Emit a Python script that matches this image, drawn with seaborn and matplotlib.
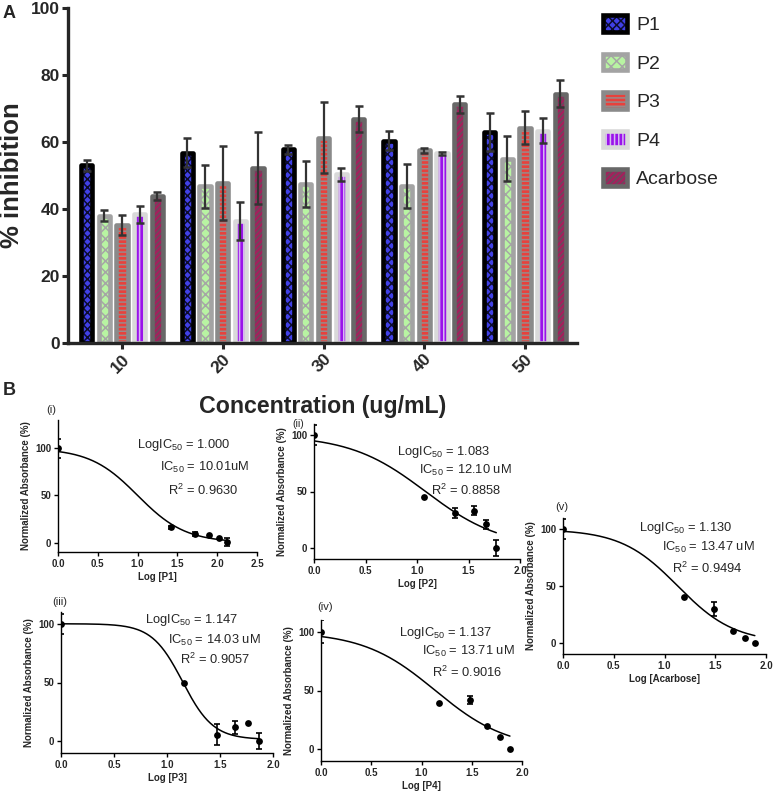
"""
plot.py
alpha-glucosidase inhibition bars (A) and dose-response fits (B)
"""
import numpy as np
import pandas as pd
import matplotlib
matplotlib.use("Agg")
import matplotlib.pyplot as plt
from matplotlib.patches import Patch
import seaborn as sns

# ---------------- panel A data ----------------
concs = ["10", "20", "30", "40", "50"]
groups = ["P1", "P2", "P3", "P4", "Acarbose"]
p1 = [53.0, 56.8, 57.8, 60.4, 63.0]
p2 = [38.0, 46.8, 47.4, 46.8, 55.0]
p3 = [35.2, 47.8, 61.3, 57.5, 64.3]
p4 = [38.4, 36.4, 50.4, 56.6, 63.4]
acarbose = [43.9, 52.2, 66.9, 71.2, 74.4]
p1_err = [1.6, 4.4, 1.3, 2.9, 5.7]
p2_err = [1.6, 6.4, 6.8, 6.5, 6.7]
p3_err = [3.0, 11.0, 10.5, 0.7, 4.9]
p4_err = [2.6, 5.6, 1.9, 0.4, 3.7]
acarbose_err = [1.1, 10.7, 3.8, 2.5, 4.0]

# ---------------- panel B data ----------------
logx_p1 = [0.0, 1.42, 1.72, 1.90, 2.02, 2.12]
abs_p1 = [100, 16.3, 9.2, 8.1, 4.6, 0.4]
err_p1 = [10, 1.5, 1.8, 0, 0, 4]
logx_p2 = [0.0, 1.07, 1.37, 1.55, 1.67, 1.77]
abs_p2 = [100, 45.3, 30.7, 32.7, 21.0, 0.0]
err_p2 = [9, 0, 4.4, 4, 4, 7]
logx_p3 = [0.0, 1.16, 1.47, 1.64, 1.76, 1.87]
abs_p3 = [100, 49.4, 5.4, 11.9, 15.3, 0.3]
err_p3 = [8.6, 0, 9, 5.6, 0, 6.8]
logx_p4 = [0.0, 1.17, 1.48, 1.65, 1.78, 1.88]
abs_p4 = [100, 39.0, 42.1, 20.0, 10.6, 0.0]
err_p4 = [9.7, 0, 3.2, 0, 0, 0]
logx_aca = [0.0, 1.19, 1.49, 1.67, 1.79, 1.89]
abs_aca = [100, 40.4, 30.0, 10.3, 4.1, 0.0]
err_aca = [8.8, 0, 6.3, 0, 0, 0]

# fitted 4PL parameters: top, bottom, logIC50, hill slope
fit_p1 = (100, 0, 1.000, 1.45)
fit_p2 = (100, 0, 1.083, 1.18)
fit_p3 = (100, 1.5, 1.147, 3.0)
fit_p4 = (100, 0, 1.137, 1.21)
fit_aca = (100, 0, 1.130, 1.55)

fit_text_p1 = ["LogIC$_{50}$ = 1.000", "IC$_{50}$ = 10.01uM", "R$^{2}$ = 0.9630"]
fit_text_p2 = ["LogIC$_{50}$ = 1.083", "IC$_{50}$ = 12.10 uM", "R$^{2}$ = 0.8858"]
fit_text_p3 = ["LogIC$_{50}$ = 1.147", "IC$_{50}$ = 14.03 uM", "R$^{2}$ = 0.9057"]
fit_text_p4 = ["LogIC$_{50}$ = 1.137", "IC$_{50}$ = 13.71 uM", "R$^{2}$ = 0.9016"]
fit_text_aca = ["LogIC$_{50}$ = 1.130", "IC$_{50}$ = 13.47 uM", "R$^{2}$ = 0.9494"]

sns.set_style("ticks")
plt.rcParams["font.family"] = ["Liberation Sans", "DejaVu Sans"]
plt.rcParams["mathtext.default"] = "regular"
plt.rcParams["hatch.linewidth"] = 1.1

W, H = 774, 794
fig = plt.figure(figsize=(W / 100, H / 100), dpi=100)


def box(l, t, r, b):
    # pixel box (from top-left) -> figure fraction
    return [l / W, 1 - b / H, (r - l) / W, (b - t) / H]


def fx(x, y):
    return x / W, 1 - y / H


# ---------------- panel A ----------------
means = dict(zip(groups, [p1, p2, p3, p4, acarbose]))
errs = dict(zip(groups, [p1_err, p2_err, p3_err, p4_err, acarbose_err]))
rows = [(c, g, means[g][i]) for g in groups for i, c in enumerate(concs)]
df = pd.DataFrame(rows, columns=["conc", "group", "value"])

face = {"P1": "#4040e6", "P2": "#b8f4a2", "P3": "#e8413c", "P4": "#9a12ea", "Acarbose": "#a3215c"}
hatch_col = {"P1": "#0c0c30", "P2": "#a6a6a6", "P3": "#9a8a8a", "P4": "#d6b6f2", "Acarbose": "#6a4a5c"}
hatch = {"P1": "xxxx", "P2": "xxx", "P3": "----", "P4": "||||", "Acarbose": "//////"}
edge = {"P1": "#000000", "P2": "#a3a3a3", "P3": "#8a8a8a", "P4": "#d9d9d9", "Acarbose": "#686868"}

axA = fig.add_axes(box(68, 8, 577, 343))
for layer in range(2):
    sns.barplot(data=df, x="conc", y="value", hue="group", order=concs,
                hue_order=groups, width=0.875, gap=0.365, errorbar=None,
                legend=False, ax=axA, palette=[face[g] for g in groups])

fill_conts = axA.containers[:5]
line_conts = axA.containers[5:10]
for g, cont in zip(groups, fill_conts):
    for bar in cont:
        bar.set_facecolor(face[g])
        bar.set_edgecolor(hatch_col[g])
        bar.set_hatch(hatch[g])
        bar.set_linewidth(0)
        bar.set_zorder(1)
for g, cont in zip(groups, line_conts):
    for bar in cont:
        bar.set_facecolor("none")
        bar.set_edgecolor(edge[g])
        bar.set_linewidth(3.3)
        bar.set_joinstyle("round")
        bar.set_zorder(2)

for g, cont in zip(groups, fill_conts):
    xs = [b.get_x() + b.get_width() / 2 for b in cont]
    axA.errorbar(xs, means[g], yerr=errs[g], fmt="none", ecolor="#333333",
                 elinewidth=1.6, capsize=2.8, capthick=1.8, zorder=5)

axA.set_xlim(-0.535, 4.515)
axA.set_ylim(0, 100)
axA.set_yticks([0, 20, 40, 60, 80, 100])
sns.despine(ax=axA)
for s in ["left", "bottom"]:
    axA.spines[s].set_linewidth(2.4)
    axA.spines[s].set_zorder(6)
axA.tick_params(axis="both", width=2.2, length=4, labelsize=12.5, pad=2)
plt.setp(axA.get_xticklabels(), rotation=45, ha="right", rotation_mode="anchor",
         fontweight="bold")
plt.setp(axA.get_yticklabels(), fontweight="bold")
axA.set_ylabel("% inhibition", fontsize=18.5, fontweight="bold")
axA.yaxis.set_label_coords(-0.086, 0.5)
axA.set_xlabel("Concentration (ug/mL)", fontsize=16.7, fontweight="bold", labelpad=14)

handles = []
for g in groups:
    hp = Patch(facecolor=face[g], edgecolor=hatch_col[g], hatch=hatch[g], linewidth=0)
    op = Patch(facecolor="none", edgecolor=edge[g], linewidth=3.3, joinstyle="round")
    handles.append((hp, op))
axA.legend(handles=handles, labels=groups, loc="upper left",
           bbox_to_anchor=fx(603, 15), bbox_transform=fig.transFigure,
           frameon=False, fontsize=14, handlelength=1.25, handleheight=0.95,
           labelspacing=1.0, handletextpad=0.45, borderpad=0, borderaxespad=0)

fig.text(*fx(3, 13), "A", fontsize=13, fontweight="bold", va="center")
fig.text(*fx(3, 390), "B", fontsize=13, fontweight="bold", va="center")

# ---------------- panel B ----------------
panels = [
    (logx_p1, abs_p1, err_p1, fit_p1, fit_text_p1, "Log [P1]", "(i)",
     (58, 420, 257, 552), (0, 2.5), (-10, 130), (46, 410),
     [(137, 445), (160, 467), (168, 490)]),
    (logx_p2, abs_p2, err_p2, fit_p2, fit_text_p2, "Log [P2]", "(ii)",
     (314, 424, 520, 559), (0, 2.0), (-10, 110), (292, 424),
     [(397, 452), (419, 470), (431, 490)]),
    (logx_p3, abs_p3, err_p3, fit_p3, fit_text_p3, "Log [P3]", "(iii)",
     (61, 612, 273, 753), (0, 2.0), (-10, 110), (52, 602),
     [(145, 620), (168, 640), (180, 659)]),
    (logx_p4, abs_p4, err_p4, fit_p4, fit_text_p4, "Log [P4]", "(iv)",
     (321, 620, 522, 761), (0, 2.0), (-10, 110), (317, 607),
     [(399, 633), (422, 651), (432, 672)]),
    (logx_aca, abs_aca, err_aca, fit_aca, fit_text_aca, "Log [Acarbose]", "(v)",
     (563, 518, 766, 654), (0, 2.0), (-10, 110), (555, 507),
     [(639, 528), (662, 547), (672, 568)]),
]

for lx, ab, er, fit, txt, xlab, tag, bx, xl, yl, tag_xy, txt_xy in panels:
    ax = fig.add_axes(box(*bx))
    lx, ab, er = np.array(lx), np.array(ab), np.array(er, dtype=float)
    top, bottom, logic50, hill = fit
    xs = np.linspace(0, lx[-1], 200)
    ys = bottom + (top - bottom) / (1 + 10 ** ((xs - logic50) * hill))
    sns.lineplot(x=xs, y=ys, color="black", linewidth=1.1, ax=ax)
    sns.scatterplot(x=lx, y=ab, color="black", s=24, linewidth=0, ax=ax, zorder=4)
    m = er > 0
    ax.errorbar(lx[m], ab[m], yerr=er[m], fmt="none", ecolor="black",
                elinewidth=1.2, capsize=2.5, capthick=1.2, zorder=4)
    ax.set_xlim(*xl)
    ax.set_ylim(*yl)
    ax.set_yticks([0, 50, 100])
    ax.set_xticks(np.arange(xl[0], xl[1] + 0.01, 0.5))
    ax.set_xticklabels(["%.1f" % v for v in ax.get_xticks()])
    sns.despine(ax=ax)
    for s in ["left", "bottom"]:
        ax.spines[s].set_linewidth(1.0)
        ax.spines[s].set_color("black")
    ax.tick_params(axis="both", width=1.0, length=3, labelsize=7, pad=2, color="black")
    plt.setp(ax.get_xticklabels() + ax.get_yticklabels(), fontweight="bold")
    ax.set_xlabel(xlab, fontsize=7, fontweight="bold", labelpad=2)
    ax.set_ylabel("Normalized Absorbance (%)", fontsize=7, fontweight="bold", labelpad=3)
    fig.text(*fx(*tag_xy), tag, fontsize=7.5 if tag == "(ii)" else 8, va="center")
    for t, (tx, ty) in zip(txt, txt_xy):
        fig.text(*fx(tx, ty), t, fontsize=9.3, va="center")

fig.savefig("out.png", dpi=100)
